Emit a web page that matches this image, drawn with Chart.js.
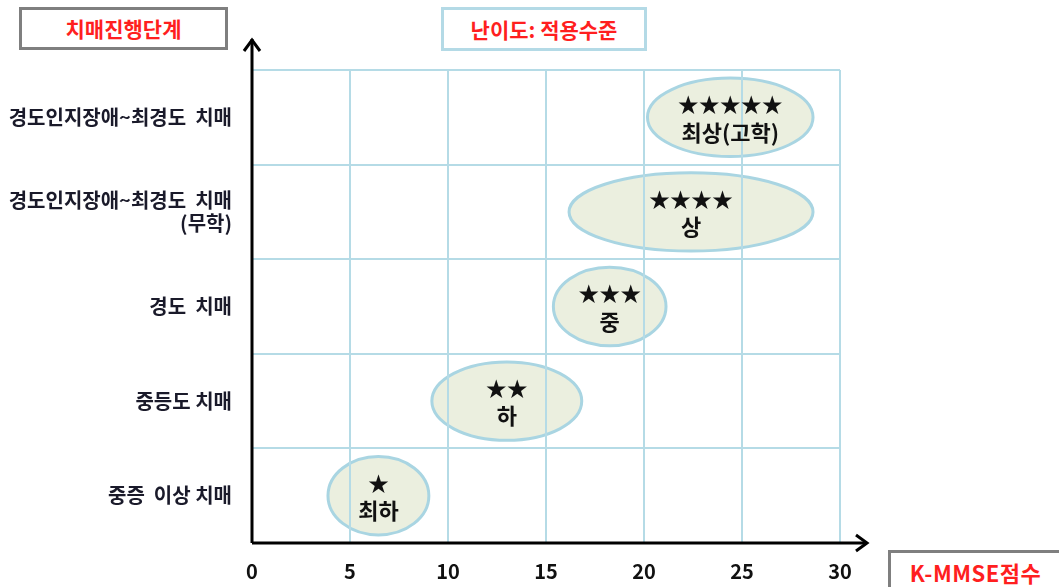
<!DOCTYPE html>
<html>
<head>
<meta charset="utf-8">
<script src="https://cdn.jsdelivr.net/npm/chart.js@4.4.1/dist/chart.umd.min.js"></script>
<style>
  body { margin: 0; background: #fff; overflow: hidden; }
  #wrap { position: relative; width: 1059px; height: 587px; }
  .box {
    position: absolute;
    box-sizing: border-box;
    background: #fff;
    color: #ff1f1f;
    font-family: "Noto Sans CJK KR", sans-serif;
    font-weight: bold;
    font-size: 21px;
    text-align: center;
  }
</style>
</head>
<body>
<div id="wrap">
  <canvas id="grafico" width="1059" height="587"></canvas>
  <div class="box" style="left:19px;top:7px;width:209px;height:43px;line-height:37px;border:3px solid #7f7f7f;">치매진행단계</div>
  <div class="box" style="left:441px;top:7px;width:206px;height:44px;line-height:38px;border:3px solid #b4dae6;">난이도: 적용수준</div>
  <div class="box" style="left:888px;top:550px;width:175px;height:50px;line-height:38px;border:3px solid #7f7f7f;font-size:22px;letter-spacing:0.5px;">K-MMSE점수</div>
</div>
<script>
// DADOS DO GRAFICO
const stageLabels = [
  "경도인지장애~최경도  치매",
  ["경도인지장애~최경도  치매", "(무학)"],
  "경도  치매",
  "중등도 치매",
  "중증  이상 치매",
];
const levelStars = ["★★★★★", "★★★★", "★★★", "★★", "★"];
const levelNames = ["최상(고학)", "상", "중", "하", "최하"];
const scoreFrom = [20.1, 16.1, 15.3, 9.1, 3.8];
const scoreTo = [28.7, 28.7, 21.2, 16.9, 9.1];
const xTicks = [0, 5, 10, 15, 20, 25, 30];

const FONT = '"Noto Sans CJK KR", sans-serif';

// ELIPSES (atras da grade) + TEXTO (na frente)
const ellipsePlugin = {
  id: "ellipses",
  beforeDraw(chart) {
    const x = chart.scales.x;
    const y = chart.scales.y;
    const band = (chart.chartArea.bottom - chart.chartArea.top) / stageLabels.length;
    const c = chart.ctx;
    c.save();
    scoreFrom.forEach((from, i) => {
      const x1 = x.getPixelForValue(from);
      const x2 = x.getPixelForValue(scoreTo[i]);
      const cy = y.getPixelForValue(i);
      c.beginPath();
      c.ellipse((x1 + x2) / 2, cy, (x2 - x1) / 2 - 1.5, band * 0.43 - 1.5, 0, 0, Math.PI * 2);
      c.fillStyle = "#ebefdf";
      c.fill();
      c.lineWidth = 3;
      c.strokeStyle = "#a9d5e2";
      c.stroke();
    });
    c.restore();
  },
  afterDatasetsDraw(chart) {
    const x = chart.scales.x;
    const y = chart.scales.y;
    const c = chart.ctx;
    c.save();
    c.textAlign = "center";
    c.textBaseline = "middle";
    c.fillStyle = "#111";
    scoreFrom.forEach((from, i) => {
      const cx = (x.getPixelForValue(from) + x.getPixelForValue(scoreTo[i])) / 2;
      const cy = y.getPixelForValue(i);
      c.font = "21px " + FONT;
      c.fillText(levelStars[i], cx, cy - 13);
      c.font = "bold 22px " + FONT;
      c.fillText(levelNames[i], cx, cy + 15);
    });
    c.restore();
  },
  // EIXOS COM SETA
  afterDraw(chart) {
    const a = chart.chartArea;
    const c = chart.ctx;
    c.save();
    c.strokeStyle = "#000";
    c.lineWidth = 3;
    c.lineCap = "butt";
    c.beginPath();
    c.moveTo(a.left, a.bottom);
    c.lineTo(a.left, 39);
    c.moveTo(a.left, a.bottom);
    c.lineTo(867, a.bottom);
    c.stroke();
    c.lineJoin = "miter";
    c.beginPath();
    c.moveTo(a.left - 8, 51);
    c.lineTo(a.left, 40);
    c.lineTo(a.left + 8, 51);
    c.moveTo(856, a.bottom - 8);
    c.lineTo(867, a.bottom);
    c.lineTo(856, a.bottom + 8);
    c.stroke();
    c.restore();
  },
};

const ctx = document.getElementById("grafico").getContext("2d");
new Chart(ctx, {
  type: "scatter",
  data: {
    labels: stageLabels,
    datasets: [
      {
        data: scoreFrom.map((f, i) => ({ x: (f + scoreTo[i]) / 2, y: i })),
        pointRadius: 0,
        pointHoverRadius: 0,
      },
    ],
  },
  options: {
    responsive: false,
    animation: false,
    layout: {
      padding: { top: 70, right: 219, left: 0, bottom: 0 },
    },
    plugins: {
      legend: { display: false },
      tooltip: { enabled: false },
    },
    scales: {
      x: {
        type: "linear",
        min: 0,
        max: 30,
        afterBuildTicks: (s) => {
          s.ticks = xTicks.map((v) => ({ value: v }));
        },
        afterFit: (s) => {
          s.height = 44;
        },
        border: { display: false },
        grid: { color: "#b5dbe6", lineWidth: 2, drawTicks: false },
        ticks: {
          color: "#111",
          padding: 16,
          maxRotation: 0,
          font: { family: FONT, size: 20, weight: "bold" },
        },
      },
      y: {
        type: "category",
        labels: stageLabels,
        offset: true,
        afterFit: (s) => {
          s.width = 252;
        },
        border: { display: false },
        grid: { offset: true, color: "#b5dbe6", lineWidth: 2, drawTicks: false },
        ticks: {
          color: "#1a1a2a",
          padding: 20,
          font: { family: FONT, size: 20, weight: "bold", lineHeight: 1.15 },
        },
      },
    },
  },
  plugins: [ellipsePlugin],
});
</script>
</body>
</html>
